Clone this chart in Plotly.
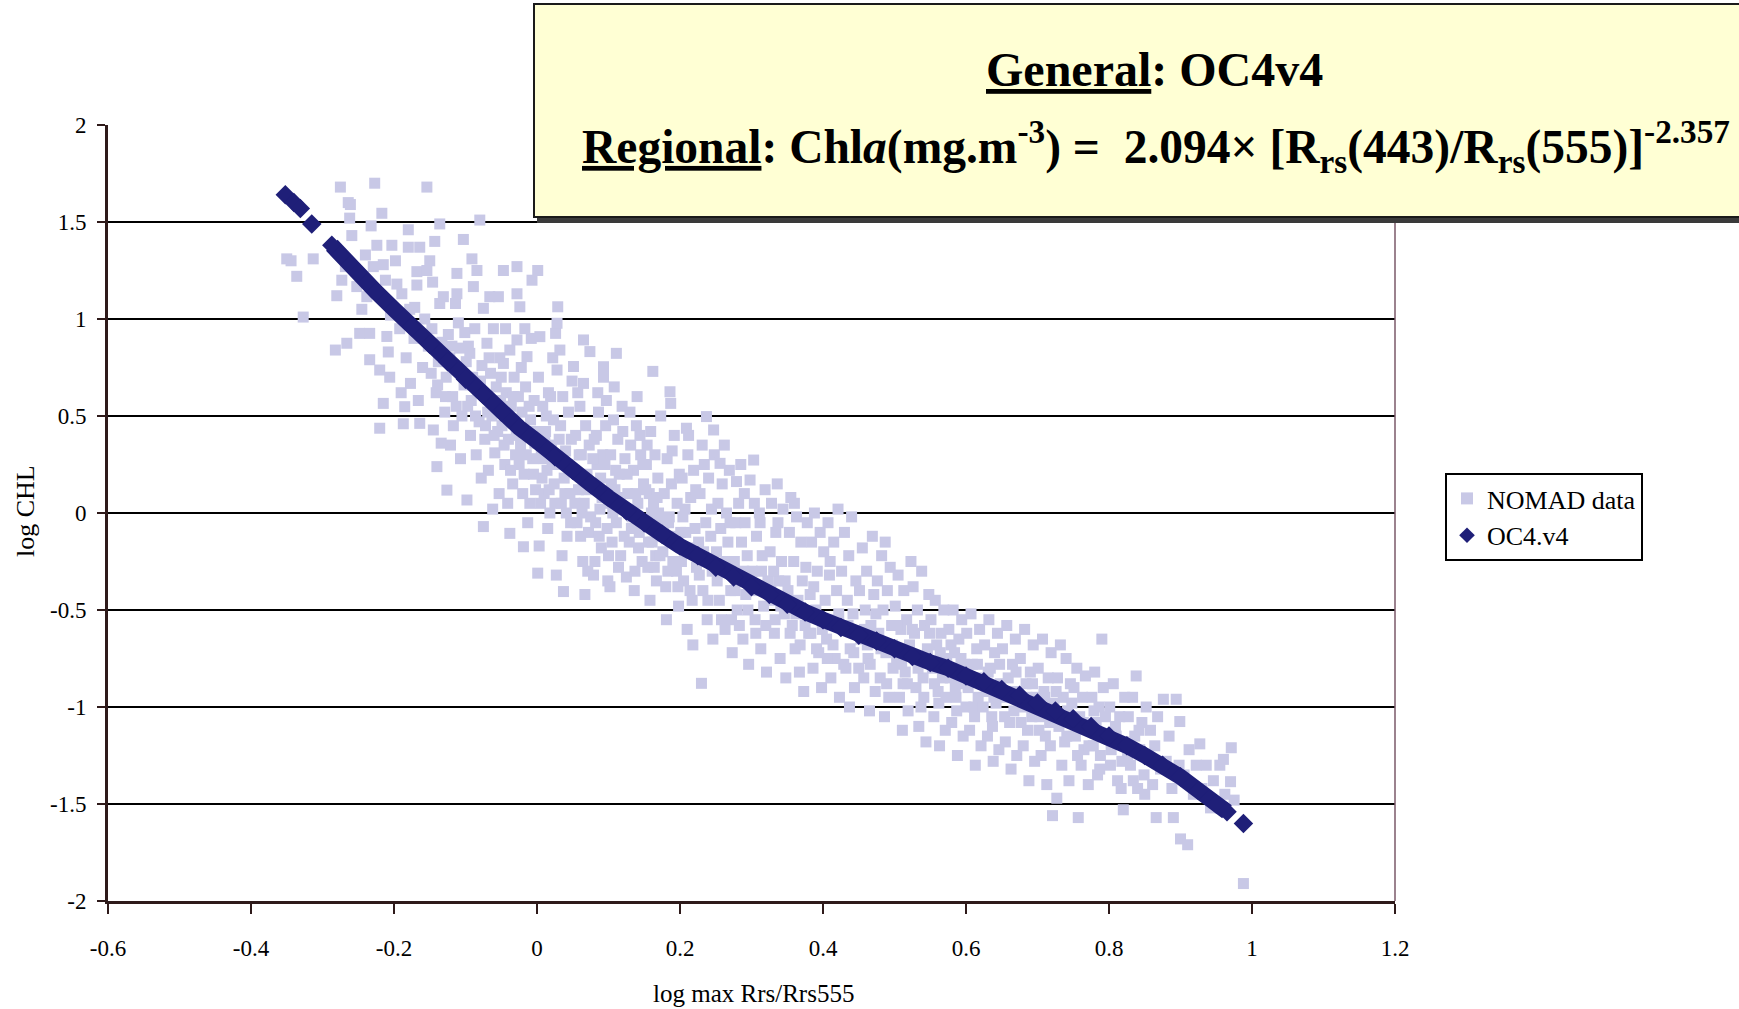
import plotly.graph_objects as go

# ---------------- data ----------------
nomad_pts = [
    (-0.350, 1.31), (-0.336, 1.22), (-0.313, 1.31), (-0.327, 1.01), (-0.344, 1.30),
    (-0.275, 1.68), (-0.261, 1.59), (-0.259, 1.43), (-0.273, 1.20), (-0.280, 1.12), (-0.266, 0.875),
    (-0.282, 0.84), (-0.264, 1.60), (-0.268, 1.27), (-0.262, 1.52),
    (-0.252, 1.167), (-0.248, 0.926), (-0.238, 1.115), (-0.234, 0.926), (-0.234, 0.79), (-0.229, 1.27),
    (-0.227, 1.70), (-0.224, 1.38), (-0.245, 1.05), (-0.240, 1.33), (-0.232, 1.48),
    (-0.220, 0.737), (-0.220, 0.437), (-0.217, 1.545), (-0.215, 1.28), (-0.215, 0.565), (-0.210, 0.91),
    (-0.206, 0.70), (-0.212, 1.20), (-0.205, 1.02), (-0.203, 1.38), (-0.208, 0.83),
    (-0.196, 1.18), (-0.189, 1.13), (-0.187, 0.46), (-0.185, 0.548), (-0.180, 1.46), (-0.180, 1.37),
    (-0.177, 0.668), (-0.192, 0.95), (-0.183, 0.80), (-0.198, 1.30), (-0.178, 1.05), (-0.190, 0.62),
    (-0.168, 1.244), (-0.168, 1.175), (-0.164, 1.37), (-0.164, 0.462), (-0.154, 1.25), (-0.154, 1.68),
    (-0.150, 1.30), (-0.172, 0.90), (-0.160, 0.75), (-0.157, 1.00), (-0.166, 0.58), (-0.152, 0.86), (-0.171, 1.06),
    (-0.145, 0.428), (-0.143, 1.40), (-0.140, 0.239), (-0.136, 1.49), (-0.136, 1.08), (-0.131, 1.115),
    (-0.126, 0.118), (-0.147, 0.95), (-0.141, 0.62), (-0.138, 0.78), (-0.133, 0.88), (-0.129, 0.52),
    (-0.146, 1.19), (-0.127, 0.70), (-0.134, 0.36),
    (-0.112, 1.235), (-0.112, 1.13), (-0.114, 1.08), (-0.103, 1.41), (-0.124, 0.92), (-0.118, 0.60),
    (-0.115, 0.74), (-0.108, 0.85), (-0.105, 0.50), (-0.121, 0.35), (-0.110, 0.98), (-0.102, 0.66),
    (-0.117, 0.45), (-0.107, 0.28), (-0.122, 0.80), (-0.101, 0.93),
    (-0.098, 0.067), (-0.094, 0.823), (-0.091, 1.31), (-0.089, 1.167), (-0.084, 1.25), (-0.080, 1.51),
    (-0.075, 1.055), (-0.097, 0.55), (-0.093, 0.40), (-0.090, 0.70), (-0.087, 0.95), (-0.085, 0.30),
    (-0.083, 0.62), (-0.081, 0.47), (-0.078, 0.18), (-0.096, 0.86), (-0.077, 0.76),
    (-0.075, -0.07), (-0.070, 0.875), (-0.066, 1.115), (-0.054, 1.115), (-0.073, 0.38), (-0.071, 0.60),
    (-0.068, 0.22), (-0.065, 0.72), (-0.063, 0.50), (-0.061, 0.95), (-0.059, 0.31), (-0.057, 0.65),
    (-0.055, 0.42), (-0.053, 0.10), (-0.052, 0.80), (-0.069, 0.52), (-0.062, 0.02), (-0.051, 0.58),
    (-0.047, 1.25), (-0.047, 0.771), (-0.038, 0.84), (-0.038, -0.105), (-0.028, 1.27), (-0.028, 0.892),
    (-0.028, 1.13), (-0.049, 0.45), (-0.045, 0.25), (-0.043, 0.62), (-0.041, 0.05), (-0.040, 0.38),
    (-0.036, 0.55), (-0.034, 0.15), (-0.032, 0.70), (-0.030, 0.30), (-0.044, 0.95), (-0.035, 0.48), (-0.026, 0.60),
    (-0.024, 1.063), (-0.019, -0.174), (-0.014, 0.806), (-0.007, 1.20), (-0.023, 0.35), (-0.021, 0.52),
    (-0.018, 0.20), (-0.016, 0.65), (-0.012, 0.42), (-0.010, 0.05), (-0.008, 0.90), (-0.006, 0.28),
    (-0.004, 0.58), (-0.002, 0.12), (-0.022, 0.75), (-0.013, -0.05), (-0.009, 0.48), (-0.017, 0.95), (-0.003, 0.36),
    (0.001, -0.31), (0.003, -0.17), (0.002, 0.70), (0.004, 0.909), (0.001, 1.25), (0.006, 0.30),
    (0.008, 0.55), (0.010, 0.10), (0.012, 0.42), (0.014, 0.22), (0.016, 0.62), (0.018, 0.0),
    (0.020, 0.35), (0.022, 0.80), (0.024, 0.15), (0.023, 0.48), (0.015, -0.08), (0.007, 0.18), (0.019, 0.60), (0.011, 0.38),
    (0.026, 0.926), (0.028, 0.978), (0.029, 1.063), (0.028, 0.737), (0.027, -0.32), (0.032, 0.84),
    (0.037, -0.405), (0.030, 0.25), (0.033, 0.45), (0.034, 0.05), (0.036, 0.60), (0.038, 0.18),
    (0.040, 0.32), (0.042, -0.12), (0.044, 0.52), (0.046, 0.10), (0.048, 0.38), (0.049, 0.68), (0.041, 0.0), (0.035, -0.22),
    (0.051, 0.755), (0.065, 0.892), (0.065, 0.668), (0.067, -0.42), (0.074, 0.832), (0.052, 0.22),
    (0.054, 0.40), (0.056, -0.05), (0.058, 0.12), (0.060, 0.55), (0.062, 0.30), (0.064, -0.25),
    (0.066, 0.05), (0.068, 0.45), (0.070, 0.20), (0.072, -0.10), (0.073, 0.35), (0.057, 0.62), (0.063, 0.0), (0.071, -0.30),
    (0.079, -0.32), (0.093, 0.754), (0.093, 0.70), (0.077, 0.15), (0.080, 0.38), (0.082, -0.05),
    (0.084, 0.25), (0.086, 0.52), (0.088, 0.02), (0.090, -0.18), (0.092, 0.30), (0.094, 0.10),
    (0.096, 0.45), (0.098, -0.08), (0.085, 0.62), (0.081, -0.25), (0.089, 0.18), (0.097, 0.58), (0.083, 0.40), (0.099, -0.35),
    (0.102, -0.38), (0.111, 0.823), (0.125, -0.33), (0.101, 0.05), (0.103, 0.30), (0.105, -0.15),
    (0.107, 0.48), (0.109, 0.12), (0.111, -0.05), (0.113, 0.38), (0.115, 0.20), (0.117, -0.22),
    (0.119, 0.55), (0.121, 0.02), (0.123, 0.28), (0.108, 0.65), (0.114, -0.28), (0.120, 0.42), (0.104, 0.15),
    (0.140, 0.60), (0.127, 0.10), (0.129, -0.15), (0.131, 0.35), (0.133, -0.02), (0.135, 0.22),
    (0.137, -0.30), (0.139, 0.45), (0.141, 0.05), (0.143, -0.10), (0.145, 0.30), (0.147, -0.25),
    (0.149, 0.15), (0.130, 0.52), (0.136, -0.40), (0.144, 0.40), (0.128, 0.00), (0.142, -0.18),
    (0.162, 0.73), (0.151, -0.05), (0.153, 0.25), (0.155, -0.28), (0.157, 0.10), (0.159, 0.42),
    (0.161, -0.15), (0.163, 0.05), (0.165, 0.30), (0.167, -0.35), (0.169, 0.18), (0.171, -0.05),
    (0.173, 0.50), (0.158, -0.45), (0.166, -0.22), (0.154, 0.35), (0.170, 0.00), (0.174, -0.12),
    (0.186, 0.625), (0.187, 0.565), (0.176, -0.20), (0.178, 0.10), (0.180, -0.38), (0.182, 0.28),
    (0.184, -0.05), (0.188, 0.15), (0.190, -0.25), (0.192, 0.40), (0.194, -0.12), (0.196, 0.05),
    (0.198, -0.48), (0.181, -0.55), (0.189, 0.32), (0.195, -0.30), (0.199, 0.20), (0.185, -0.02),
    (0.209, 0.437), (0.201, -0.10), (0.203, 0.18), (0.205, -0.35), (0.207, 0.02), (0.210, -0.60),
    (0.211, 0.30), (0.213, -0.20), (0.215, 0.08), (0.217, -0.45), (0.219, 0.22), (0.221, -0.08),
    (0.223, -0.28), (0.212, 0.40), (0.218, -0.68), (0.204, -0.02), (0.222, 0.12),
    (0.230, -0.878), (0.237, 0.497), (0.247, 0.428), (0.226, -0.15), (0.228, 0.10), (0.232, -0.40),
    (0.234, 0.25), (0.236, -0.05), (0.238, -0.55), (0.240, 0.18), (0.242, -0.25), (0.244, 0.02),
    (0.246, -0.65), (0.248, 0.30), (0.243, -0.12), (0.231, 0.35),
    (0.256, 0.256), (0.251, -0.20), (0.253, 0.05), (0.255, -0.45), (0.257, -0.08), (0.259, 0.15),
    (0.261, -0.30), (0.263, -0.60), (0.265, 0.00), (0.267, -0.15), (0.269, 0.22), (0.271, -0.40),
    (0.273, -0.72), (0.262, 0.35), (0.270, -0.05),
    (0.279, 0.162), (0.298, 0.17), (0.276, -0.25), (0.278, -0.05), (0.280, -0.50), (0.282, 0.05),
    (0.284, -0.35), (0.286, -0.15), (0.288, -0.65), (0.290, 0.10), (0.292, -0.42), (0.294, -0.22),
    (0.296, -0.78), (0.285, 0.25), (0.291, -0.05),
    (0.303, 0.273), (0.304, 0.05), (0.301, -0.30), (0.305, -0.55), (0.307, -0.12), (0.309, -0.40),
    (0.311, 0.00), (0.313, -0.70), (0.315, -0.22), (0.317, -0.48), (0.319, 0.12), (0.321, -0.82),
    (0.323, -0.35), (0.312, -0.05),
    (0.326, -0.20), (0.328, 0.05), (0.330, -0.45), (0.332, -0.62), (0.334, -0.10), (0.336, 0.15),
    (0.338, -0.35), (0.340, -0.75), (0.342, -0.25), (0.344, 0.02), (0.346, -0.52), (0.348, -0.85),
    (0.337, -0.05), (0.331, -0.30),
    (0.351, -0.40), (0.353, -0.10), (0.355, 0.08), (0.357, -0.58), (0.359, -0.25), (0.361, -0.70),
    (0.363, -0.02), (0.365, -0.45), (0.367, -0.82), (0.369, -0.15), (0.371, -0.35), (0.373, -0.92), (0.360, 0.05),
    (0.376, -0.28), (0.378, -0.05), (0.380, -0.62), (0.382, -0.42), (0.384, -0.15), (0.386, -0.80),
    (0.388, 0.00), (0.390, -0.50), (0.392, -0.30), (0.394, -0.72), (0.396, -0.10), (0.398, -0.90), (0.387, -0.38),
    (0.401, -0.20), (0.403, -0.45), (0.405, -0.65), (0.407, -0.05), (0.409, -0.32), (0.411, -0.85),
    (0.413, -0.55), (0.415, -0.15), (0.417, -0.75), (0.419, -0.40), (0.421, 0.02), (0.423, -0.95), (0.410, -0.25),
    (0.426, -0.30), (0.428, -0.60), (0.430, -0.10), (0.432, -0.80), (0.434, -0.45), (0.436, -0.22),
    (0.438, -0.70), (0.440, -0.02), (0.442, -0.52), (0.444, -0.90), (0.446, -0.35), (0.448, -0.62), (0.437, -1.00),
    (0.451, -0.40), (0.453, -0.65), (0.455, -0.18), (0.457, -0.85), (0.459, -0.50), (0.461, -0.30),
    (0.463, -0.75), (0.465, -1.02), (0.467, -0.58), (0.469, -0.12), (0.471, -0.42), (0.473, -0.92), (0.462, -0.68),
    (0.476, -0.35), (0.478, -0.62), (0.480, -0.85), (0.482, -0.22), (0.484, -0.50), (0.486, -1.05),
    (0.488, -0.72), (0.490, -0.40), (0.492, -0.95), (0.494, -0.28), (0.496, -0.58), (0.498, -0.80), (0.487, -0.15),
    (0.501, -0.48), (0.503, -0.75), (0.505, -0.32), (0.507, -0.95), (0.509, -0.60), (0.511, -1.12),
    (0.513, -0.40), (0.515, -0.82), (0.517, -0.55), (0.519, -1.02), (0.521, -0.68), (0.523, -0.25), (0.512, -0.88),
    (0.526, -0.38), (0.528, -0.62), (0.530, -0.90), (0.532, -0.50), (0.534, -1.10), (0.536, -0.75),
    (0.538, -0.30), (0.540, -0.85), (0.542, -0.58), (0.544, -1.18), (0.546, -0.70), (0.548, -0.42), (0.537, -1.00),
    (0.551, -0.55), (0.553, -0.80), (0.555, -1.05), (0.557, -0.45), (0.559, -0.68), (0.561, -0.92),
    (0.563, -1.20), (0.565, -0.62), (0.567, -0.85), (0.569, -0.50), (0.571, -1.12), (0.573, -0.75), (0.562, -0.98),
    (0.576, -0.60), (0.578, -0.85), (0.580, -1.08), (0.582, -0.50), (0.584, -0.72), (0.586, -0.95),
    (0.588, -1.25), (0.590, -0.65), (0.592, -0.88), (0.594, -0.55), (0.596, -1.15), (0.598, -0.78), (0.587, -1.02),
    (0.601, -0.62), (0.603, -0.90), (0.605, -1.12), (0.607, -0.52), (0.609, -0.78), (0.611, -1.00),
    (0.613, -1.30), (0.615, -0.70), (0.617, -0.95), (0.619, -0.60), (0.621, -1.20), (0.623, -0.85), (0.612, -1.05),
    (0.626, -0.68), (0.628, -0.92), (0.630, -1.15), (0.632, -0.55), (0.634, -0.80), (0.636, -1.05),
    (0.638, -1.28), (0.640, -0.72), (0.642, -0.98), (0.644, -0.62), (0.646, -1.22), (0.648, -0.88), (0.637, -1.10),
    (0.651, -0.70), (0.653, -0.95), (0.655, -1.18), (0.657, -0.58), (0.659, -0.85), (0.661, -1.08),
    (0.663, -1.32), (0.665, -0.78), (0.667, -1.02), (0.669, -0.65), (0.671, -1.25), (0.673, -0.92),
    (0.676, -0.75), (0.678, -1.00), (0.680, -1.20), (0.682, -0.60), (0.684, -0.88), (0.686, -1.12),
    (0.688, -1.38), (0.690, -0.82), (0.692, -1.05), (0.694, -0.68), (0.696, -1.28), (0.698, -0.95),
    (0.701, -0.80), (0.703, -1.05), (0.705, -1.25), (0.707, -0.65), (0.709, -0.92), (0.711, -1.15),
    (0.713, -1.40), (0.715, -0.85), (0.717, -1.08), (0.719, -0.72), (0.721, -1.56), (0.723, -0.98),
    (0.727, -1.47), (0.728, -0.85), (0.730, -1.10), (0.732, -0.68), (0.734, -1.30), (0.736, -0.95),
    (0.738, -1.18), (0.740, -0.75), (0.742, -1.02), (0.744, -1.38), (0.746, -0.88),
    (0.757, -1.57), (0.751, -0.90), (0.753, -1.15), (0.755, -0.80), (0.759, -1.05), (0.761, -1.30),
    (0.763, -0.95), (0.765, -1.22), (0.767, -0.84), (0.769, -1.10), (0.771, -1.40),
    (0.790, -0.65), (0.776, -0.95), (0.778, -1.20), (0.780, -0.82), (0.782, -1.08), (0.784, -1.35),
    (0.786, -1.00), (0.788, -1.25), (0.792, -0.90), (0.796, -1.15),
    (0.820, -1.53), (0.801, -1.00), (0.803, -1.22), (0.806, -0.88), (0.809, -1.10), (0.812, -1.38),
    (0.815, -1.05), (0.818, -1.28), (0.822, -0.95), (0.824, -1.18),
    (0.838, -0.84), (0.827, -1.05), (0.830, -1.30), (0.833, -0.95), (0.836, -1.15), (0.840, -1.42),
    (0.843, -1.22), (0.846, -1.08), (0.849, -1.35),
    (0.852, -1.00), (0.855, -1.25), (0.858, -1.12), (0.861, -1.40), (0.864, -1.20), (0.866, -1.57),
    (0.868, -1.05), (0.872, -1.32),
    (0.876, -0.96), (0.880, -1.28), (0.884, -1.15), (0.888, -1.42), (0.890, -1.57), (0.894, -0.96), (0.898, -1.30),
    (0.899, -1.075), (0.900, -1.68), (0.910, -1.71), (0.905, -1.35), (0.912, -1.22), (0.918, -1.45), (0.922, -1.30),
    (0.927, -1.19), (0.930, -1.42), (0.936, -1.30), (0.942, -1.52), (0.946, -1.38),
    (0.971, -1.21), (0.970, -1.385), (0.955, -1.30), (0.962, -1.45), (0.988, -1.91), (0.960, -1.27), (0.975, -1.48),
    # denser core of the cloud
    (-0.148, 0.72), (-0.139, 0.66), (-0.128, 0.60), (-0.119, 0.86), (-0.113, 0.55), (-0.106, 0.72),
    (-0.099, 0.78), (-0.092, 0.58), (-0.086, 0.50), (-0.079, 0.68), (-0.072, 0.45), (-0.067, 0.80),
    (-0.060, 0.40), (-0.056, 0.55), (-0.050, 0.70),
    (-0.046, 0.35), (-0.042, 0.50), (-0.037, 0.22), (-0.033, 0.60), (-0.029, 0.40), (-0.025, 0.25),
    (-0.020, 0.10), (-0.015, 0.30), (-0.011, 0.55), (-0.005, 0.20), (0.000, 0.42), (0.005, 0.05),
    (0.009, 0.28), (0.013, 0.50), (0.017, 0.12), (0.021, 0.25), (0.025, 0.05), (0.031, 0.38),
    (0.039, 0.10), (0.043, 0.25), (0.047, -0.05),
    (0.053, 0.05), (0.059, 0.30), (0.061, -0.12), (0.069, 0.12), (0.075, -0.02), (0.078, 0.28),
    (0.087, -0.12), (0.091, 0.08), (0.095, 0.25), (0.100, -0.22), (0.106, 0.00), (0.110, 0.22),
    (0.116, 0.08), (0.122, -0.12), (0.126, 0.20), (0.132, -0.08), (0.138, 0.10), (0.146, -0.05), (0.148, 0.25),
    (0.152, 0.12), (0.156, -0.15), (0.160, 0.00), (0.164, -0.28), (0.168, 0.08), (0.172, -0.22),
    (0.177, -0.08), (0.183, -0.30), (0.191, -0.15), (0.197, -0.38), (0.202, -0.25), (0.208, -0.10),
    (0.214, -0.40), (0.220, -0.18), (0.227, -0.32), (0.233, -0.20), (0.239, -0.45), (0.245, -0.30),
    (0.252, -0.35), (0.258, -0.55), (0.264, -0.25), (0.272, -0.55), (0.277, -0.40), (0.283, -0.58),
    (0.289, -0.30), (0.295, -0.50),
    (0.306, -0.62), (0.314, -0.30), (0.320, -0.58), (0.327, -0.40), (0.333, -0.55), (0.341, -0.48),
    (0.347, -0.35), (0.354, -0.62), (0.362, -0.52), (0.368, -0.68), (0.375, -0.58), (0.383, -0.62),
    (0.391, -0.70), (0.399, -0.60), (0.406, -0.75), (0.414, -0.68), (0.422, -0.52), (0.429, -0.78),
    (0.435, -0.58), (0.443, -0.72), (0.450, -0.80), (0.458, -0.60), (0.466, -0.78), (0.474, -0.52),
    (0.481, -0.70), (0.489, -0.88), (0.497, -0.68),
    (0.504, -0.58), (0.510, -0.78), (0.518, -0.88), (0.525, -0.60), (0.533, -0.80), (0.541, -0.95),
    (0.549, -0.62), (0.556, -0.88), (0.564, -0.72), (0.572, -0.95), (0.579, -0.68), (0.585, -0.90),
    (0.593, -0.75), (0.600, -1.00), (0.608, -0.85), (0.616, -0.78), (0.624, -1.00), (0.631, -0.82),
    (0.639, -0.95), (0.647, -0.78), (0.654, -1.05), (0.662, -0.92), (0.670, -0.82), (0.677, -1.08),
    (0.685, -0.95), (0.693, -0.88),
    (0.702, -1.12), (0.710, -0.95), (0.718, -1.20), (0.726, -0.92), (0.733, -1.05), (0.741, -1.15),
    (0.748, -0.98), (0.756, -1.25), (0.764, -1.08), (0.772, -1.20), (0.779, -1.02), (0.787, -1.32),
    (0.795, -1.05), (0.802, -1.30), (0.810, -1.15), (0.817, -1.42), (0.826, -1.25), (0.834, -1.38),
    (0.842, -1.12), (0.850, -1.45),
]
nomad_x = [p[0] for p in nomad_pts]
nomad_y = [p[1] for p in nomad_pts]

# OC4v4 curve (continuous band part)
oc4_x = [-0.287, -0.275, -0.25, -0.225, -0.2, -0.175, -0.15, -0.125, -0.1, -0.075, -0.05, -0.025, 0.0,
         0.025, 0.05, 0.075, 0.1, 0.125, 0.15, 0.175, 0.2, 0.225, 0.25, 0.275, 0.3, 0.325, 0.35, 0.375,
         0.4, 0.425, 0.45, 0.475, 0.5, 0.525, 0.55, 0.575, 0.6, 0.625, 0.65, 0.675, 0.7, 0.725, 0.75,
         0.775, 0.8, 0.825, 0.85, 0.875, 0.9, 0.925, 0.95, 0.965]
oc4_y = [1.38, 1.33, 1.24, 1.14, 1.05, 0.96, 0.87, 0.78, 0.69, 0.61, 0.52, 0.44, 0.37,
         0.29, 0.22, 0.15, 0.08, 0.01, -0.05, -0.11, -0.17, -0.22, -0.28, -0.33, -0.38, -0.42, -0.47, -0.51,
         -0.55, -0.59, -0.63, -0.66, -0.70, -0.74, -0.77, -0.80, -0.84, -0.87, -0.91, -0.94, -0.98, -1.02, -1.06,
         -1.10, -1.15, -1.20, -1.25, -1.30, -1.36, -1.43, -1.50, -1.54]
# isolated OC4v4 diamonds
oc4_iso_x = [-0.352, -0.340, -0.331, -0.315, 0.988]
oc4_iso_y = [1.64, 1.60, 1.57, 1.49, -1.60]

x_ticks = [-0.6, -0.4, -0.2, 0.0, 0.2, 0.4, 0.6, 0.8, 1.0, 1.2]
x_tick_labels = ["-0.6", "-0.4", "-0.2", "0", "0.2", "0.4", "0.6", "0.8", "1", "1.2"]
y_ticks = [-2, -1.5, -1, -0.5, 0, 0.5, 1, 1.5, 2]
y_tick_labels = ["-2", "-1.5", "-1", "-0.5", "0", "0.5", "1", "1.5", "2"]

# ---------------- layout geometry ----------------
W, H = 1739, 1009
L, R, T, B = 108, 1395, 125, 901
PW, PH = R - L, B - T


def px(X):
    return (X - L) / PW


def py(Y):
    return (B - Y) / PH


SERIF = "Liberation Serif"
LAV = "#c8c8e6"
NAVY = "#1f1f78"
AXC = "#2e1a1a"

fig = go.Figure()
fig.add_trace(go.Scatter(
    x=nomad_x, y=nomad_y, mode="markers", name="NOMAD data",
    marker=dict(symbol="square", size=11, color=LAV, line=dict(width=0)),
))
fig.add_trace(go.Scatter(
    x=oc4_x, y=oc4_y, mode="lines", showlegend=False, hoverinfo="skip",
    line=dict(color=NAVY, width=16),
))
fig.add_trace(go.Scatter(
    x=oc4_iso_x[:4] + oc4_x + oc4_iso_x[4:], y=oc4_iso_y[:4] + oc4_y + oc4_iso_y[4:],
    mode="markers", name="OC4.v4",
    marker=dict(symbol="diamond", size=15, color=NAVY, line=dict(width=0)),
))

shapes = [
    dict(type="line", xref="paper", yref="paper", x0=1, x1=1, y0=0, y1=1,
         line=dict(color="#7a5868", width=1.5), layer="above"),
    dict(type="rect", xref="paper", yref="paper", x0=px(537), x1=px(1760), y0=py(223), y1=py(8),
         fillcolor="#3a3a3a", line=dict(width=0), layer="above"),
    dict(type="rect", xref="paper", yref="paper", x0=px(534), x1=px(1760), y0=py(217), y1=py(4),
         fillcolor="#ffffd4", line=dict(color="#1a1a1a", width=2), layer="above"),
]

annotations = [
    dict(text="<b><u>General</u>: OC4v4</b>", xref="paper", yref="paper",
         x=px(1154), y=py(69), xanchor="center", yanchor="middle", showarrow=False,
         font=dict(family=SERIF, size=48, color="black")),
    dict(text="<b><u>Regional</u>: Chl<i>a</i>(mg.m<sup>-3</sup>) =  2.094× [R<sub>rs</sub>(443)/R<sub>rs</sub>(555)]<sup>-2.357</sup></b>",
         xref="paper", yref="paper", x=px(580), y=py(146), xanchor="left", yanchor="middle",
         showarrow=False, font=dict(family=SERIF, size=47.5, color="black")),
    dict(text="log CHL", xref="paper", yref="paper", x=px(25), y=py(511), xanchor="center",
         yanchor="middle", textangle=-90, showarrow=False,
         font=dict(family=SERIF, size=26, color="black")),
    dict(text="log max Rrs/Rrs555", xref="paper", yref="paper", x=px(753), y=py(993),
         xanchor="center", yanchor="middle", showarrow=False,
         font=dict(family=SERIF, size=25, color="black")),
]

fig.update_layout(
    width=W, height=H, autosize=False,
    margin=dict(l=L, r=W - R, t=T, b=H - B, pad=0),
    paper_bgcolor="white", plot_bgcolor="white",
    font=dict(family=SERIF, color="black"),
    shapes=shapes, annotations=annotations,
    showlegend=True,
    legend=dict(x=px(1445), y=py(473), xanchor="left", yanchor="top",
                bgcolor="white", bordercolor="black", borderwidth=2,
                font=dict(family=SERIF, size=26, color="black"),
                itemsizing="constant", itemwidth=30, tracegroupgap=0),
    xaxis=dict(range=[-0.6, 1.2], tickmode="array", tickvals=x_ticks, ticktext=x_tick_labels,
               showgrid=False, zeroline=False, showline=True, linecolor=AXC, linewidth=3,
               ticks="outside", ticklen=10, tickwidth=2, tickcolor=AXC,
               tickfont=dict(family=SERIF, size=23, color="black"), ticklabelstandoff=14),
    yaxis=dict(range=[-2, 2], tickmode="array", tickvals=y_ticks, ticktext=y_tick_labels,
               showgrid=True, gridcolor="black", gridwidth=2, zeroline=False,
               showline=True, linecolor=AXC, linewidth=3,
               ticks="outside", ticklen=8, tickwidth=2, tickcolor=AXC,
               tickfont=dict(family=SERIF, size=23, color="black"), ticklabelstandoff=6),
)

fig.write_html("out.html")
